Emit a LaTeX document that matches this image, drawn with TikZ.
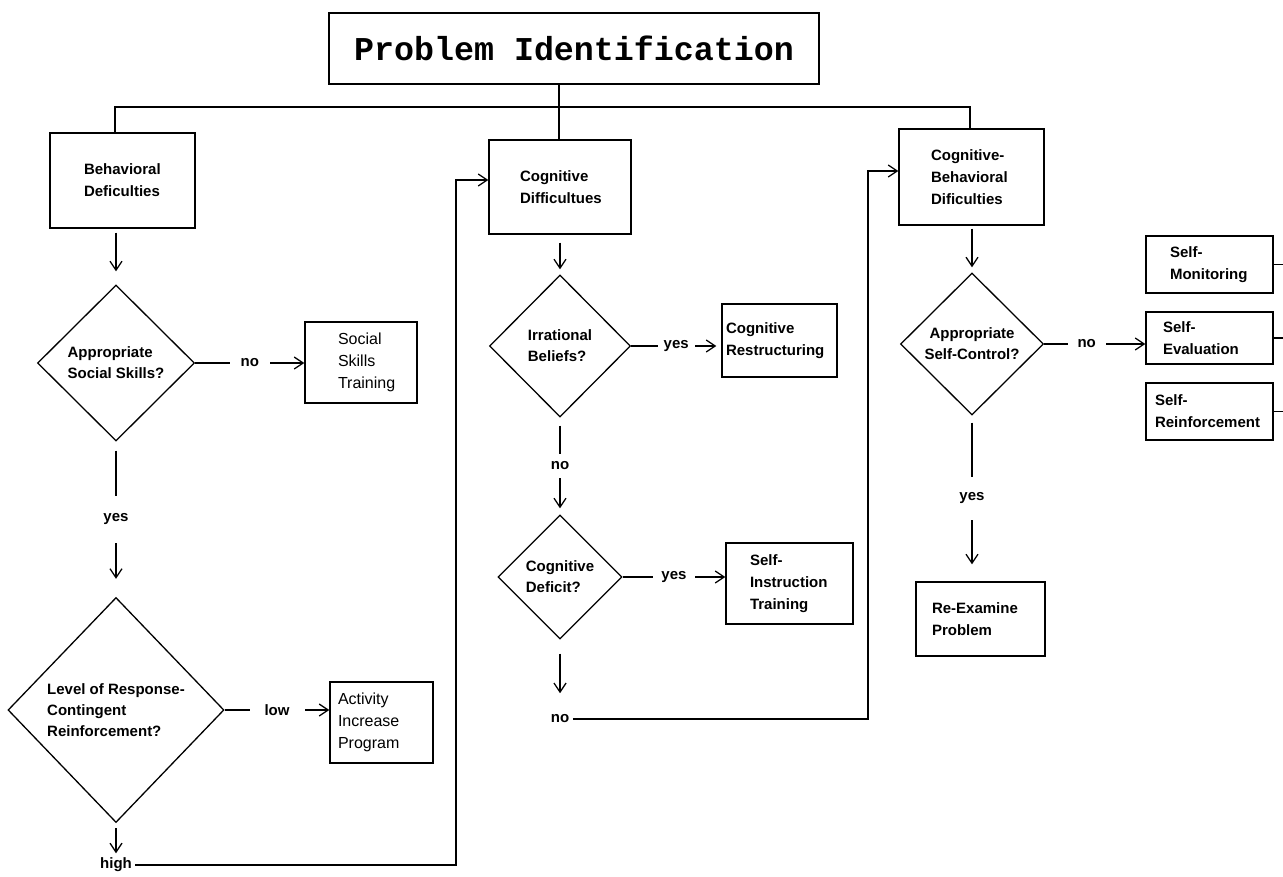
\documentclass[tikz,border=0pt]{standalone}
\usepackage{fontspec}
\setmainfont{Liberation Sans}
\newfontfamily\monofont{Liberation Mono}
\usepackage{tikz}
\usetikzlibrary{shapes.geometric, arrows.meta}

\begin{document}
\begin{tikzpicture}[x=1pt, y=-1pt, line width=1.3pt]
        % Define styles
        \tikzset{
            box/.style={rectangle, draw, inner sep=0pt, font=\fontsize{15}{22}\selectfont\bfseries},
            plainbox/.style={rectangle, draw, inner sep=0pt, font=\fontsize{16}{22}\selectfont},
            decision/.style={diamond, draw, inner sep=0pt, align=left, font=\fontsize{15}{21}\selectfont\bfseries},
            answer/.style={fill=white, inner xsep=9pt, inner ysep=1pt, font=\fontsize{15}{18}\selectfont\bfseries},
            endlabel/.style={inner sep=3pt, font=\fontsize{15}{18}\selectfont\bfseries},
            arrow/.style={-{Straight Barb[length=9pt, width=12pt]}}
        }
        \useasboundingbox (0,0) rectangle (1283,876);

        % Nodes
        \node[draw, minimum width=490pt, minimum height=71pt, font=\monofont\fontsize{33.3}{40}\selectfont\bfseries] (title_node) at (574,48.5) {Problem Identification};

        \node[box, minimum width=145pt, minimum height=95pt] (behavioral_node) at (122.5,180.5) {\parbox{77pt}{\raggedright Behavioral\\Deficulties}};
        \node[box, minimum width=142pt, minimum height=94pt] (cognitive_node) at (560,187) {\parbox{80pt}{\raggedright Cognitive\\Difficultues}};
        \node[box, minimum width=145pt, minimum height=96pt] (cb_node) at (971.5,177) {\parbox{81pt}{\raggedright Cognitive-\\Behavioral\\Dificulties}};

        % behavioral column
        \node[decision, minimum width=157pt, minimum height=156pt] (social_decision) at (116,363) {Appropriate\\Social Skills?};
        \node[plainbox, minimum width=112pt, minimum height=81pt] (social_node) at (361,362.5) {\parbox{46pt}{\raggedright Social\\Skills\\Training}};
        \node[decision, minimum width=216pt, minimum height=225pt] (level_decision) at (116,710) {Level of Response-\\Contingent\\Reinforcement?};
        \node[plainbox, minimum width=103pt, minimum height=81pt] (activity_node) at (381.5,722.5) {\parbox{87pt}{\raggedright Activity\\Increase\\Program}};
        \node[endlabel] (high_node) at (116,865) {high};

        % cognitive column
        \node[decision, minimum width=141pt, minimum height=142pt] (irrational_decision) at (560,346) {Irrational\\Beliefs?};
        \node[box, minimum width=115pt, minimum height=73pt] (restructuring_node) at (779.5,340.5) {\parbox{107pt}{\raggedright Cognitive\\Restructuring}};
        \node[decision, minimum width=124pt, minimum height=124pt] (deficit_decision) at (560,577) {Cognitive\\Deficit?};
        \node[box, minimum width=127pt, minimum height=81pt] (instruction_node) at (789.5,583.5) {\parbox{79pt}{\raggedright Self-\\Instruction\\Training}};
        \node[endlabel] (no_node) at (560,719) {no};

        % cognitive-behavioral column
        \node[decision, align=center, minimum width=143pt, minimum height=142pt] (selfcontrol_decision) at (972,344) {Appropriate\\Self-Control?};
        \node[box, minimum width=129pt, minimum height=74pt] (reexamine_node) at (980.5,619) {\parbox{97pt}{\raggedright Re-Examine\\Problem}};
        \node[box, minimum width=127pt, minimum height=57pt] (monitoring_node) at (1209.5,264.5) {\parbox{79pt}{\raggedright Self-\\Monitoring}};
        \node[box, minimum width=127pt, minimum height=52pt] (evaluation_node) at (1209.5,338) {\parbox{93pt}{\raggedright Self-\\Evaluation}};
        \node[box, minimum width=127pt, minimum height=57pt] (reinforcement_node) at (1209.5,411.5) {\parbox{109pt}{\raggedright Self-\\Reinforcement}};

        \coordinate (hub) at (559,107);
        \coordinate (bar_left) at (115,107);
        \coordinate (bar_right) at (970,107);
        \coordinate (loop_cog) at (456,180);
        \coordinate (loop_cb) at (868,171);
        \coordinate (right_edge) at (1283,0);

        % Tree
        \draw (title_node.south -| hub) -- (hub) -- (cognitive_node.north -| hub);
        \draw (behavioral_node.north -| bar_left) -- (bar_left) -- (bar_right) -- (cb_node.north -| bar_right);

        % Arrows
        \draw[arrow, shorten <=4pt, shorten >=13pt] (behavioral_node.south -| social_decision.north) -- (social_decision.north);
        \draw[arrow] (social_decision.east) -- node[answer, inner xsep=11pt] {no} (social_node.west |- social_decision.east);
        \draw[arrow, shorten <=9pt, shorten >=18pt] (social_decision.south) -- node[answer, inner xsep=2pt, inner ysep=18pt] {yes} (level_decision.north);
        \draw[arrow] (level_decision.east) -- node[answer, inner xsep=15pt] {low} (activity_node.west |- level_decision.east);
        \draw[arrow, shorten <=5pt, shorten >=1pt] (level_decision.south) -- (high_node.north);
        \draw[arrow] (high_node.east) -- (high_node.east -| loop_cog) -- (loop_cog) -- (cognitive_node.west |- loop_cog);

        \draw[arrow, shorten <=8pt, shorten >=5pt] (cognitive_node.south) -- (irrational_decision.north);
        \draw[arrow, shorten >=5pt] (irrational_decision.east) -- node[answer, inner xsep=6pt] {yes} (restructuring_node.west |- irrational_decision.east);
        \draw[arrow, shorten <=8pt, shorten >=6pt] (irrational_decision.south) -- node[answer, inner xsep=2pt, inner ysep=8pt] {no} (deficit_decision.north);
        \draw[arrow] (deficit_decision.east) -- node[answer, inner xsep=8pt] {yes} (instruction_node.west |- deficit_decision.east);
        \draw[arrow, shorten <=14pt, shorten >=18pt] (deficit_decision.south) -- (no_node.north);
        \draw[arrow] (no_node.east) -- (no_node.east -| loop_cb) -- (loop_cb) -- (cb_node.west |- loop_cb);

        \draw[arrow, shorten <=3pt, shorten >=5pt] (cb_node.south -| selfcontrol_decision.north) -- (selfcontrol_decision.north);
        \draw[arrow] (selfcontrol_decision.east) -- node[answer, pos=0.42, inner xsep=10pt] {no} (evaluation_node.west |- selfcontrol_decision.east);
        \draw[arrow, shorten <=7pt, shorten >=17pt] (selfcontrol_decision.south) -- node[answer, inner xsep=2pt, inner ysep=16pt] {yes} (reexamine_node.north -| selfcontrol_decision.south);
        \draw (monitoring_node.east) -- (monitoring_node.east -| right_edge);
        \draw (evaluation_node.east) -- (evaluation_node.east -| right_edge);
        \draw (reinforcement_node.east) -- (reinforcement_node.east -| right_edge);
    \end{tikzpicture}
\end{document}
